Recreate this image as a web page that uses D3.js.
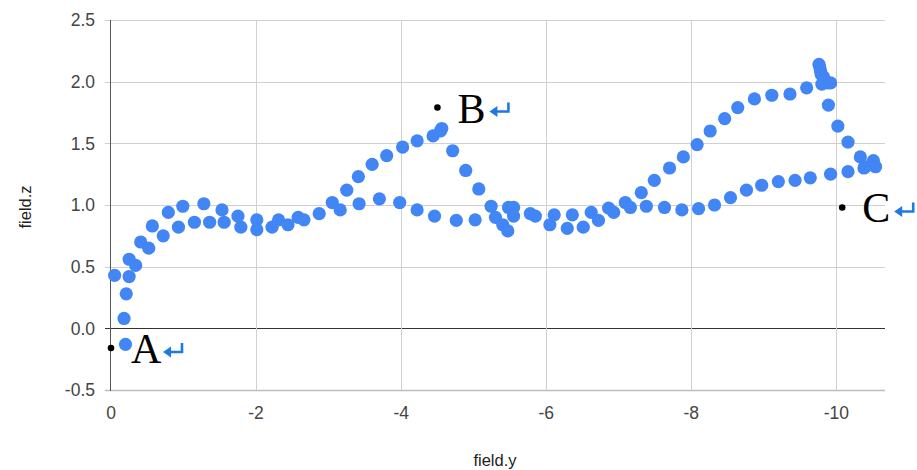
<!DOCTYPE html>
<html>
<head>
<meta charset="utf-8">
<script src="https://cdn.jsdelivr.net/npm/d3@7"></script>
<style>
  html, body { margin: 0; padding: 0; background: #fff; }
  svg { display: block; }
</style>
</head>
<body>
<svg id="chart" width="917" height="470"></svg>
<script>
// ---- data ----
const fieldY = [
  -0.05, -0.25, -0.21, -0.18, -0.20, -0.25, -0.34, -0.41, -0.52, -0.57,
  -0.72, -0.79, -0.93, -0.99, -1.15, -1.28, -1.36, -1.53, -1.56, -1.75,
  -1.79, -2.01, -2.01, -2.22, -2.31,
  -2.44, -2.58, -2.66, -2.87, -3.05, -3.16, -3.25, -3.41, -3.42, -3.60,
  -3.70, -3.80, -3.98, -4.02, -4.22, -4.22, -4.44, -4.54, -4.56, -4.46,
  -4.71, -4.76, -4.89,
  -5.07, -5.02, -5.24, -5.30, -5.40, -5.47, -5.48, -5.55, -5.55, -5.78,
  -5.85, -6.05, -6.11, -6.29, -6.36, -6.51, -6.62, -6.72, -6.86, -6.93,
  -7.09, -7.16, -7.31, -7.38, -7.49,
  -7.70, -7.89, -8.08, -8.26, -8.46, -8.64, -8.87, -9.11, -9.36, -9.59,
  -7.63, -7.87, -8.10, -8.32, -8.54, -8.76, -8.97, -9.20, -9.43, -9.64,
  -9.76, -9.77, -9.78, -9.79, -9.82, -9.83, -9.85, -9.88, -9.92, -9.80,
  -9.89, -10.02, -10.16, -10.33, -10.40, -10.51, -10.54,
  -9.92, -10.16, -10.38
];
const fieldZ = [
  0.43, 0.42, 0.28, 0.08, -0.13, 0.56, 0.51, 0.70, 0.65, 0.83,
  0.75, 0.94, 0.82, 0.99, 0.86, 1.01, 0.86, 0.96, 0.86, 0.91,
  0.82, 0.88, 0.80, 0.82, 0.88,
  0.84, 0.90, 0.88, 0.93, 1.02, 0.96, 1.12, 1.23, 1.01, 1.33,
  1.05, 1.40, 1.02, 1.47, 0.96, 1.52, 1.56, 1.60, 1.62, 0.91,
  1.44, 0.875, 1.28,
  1.13, 0.88, 0.99, 0.90, 0.84, 0.79, 0.98, 0.98, 0.91, 0.93,
  0.91, 0.84, 0.92, 0.81, 0.92, 0.82, 0.94, 0.875, 0.975, 0.94,
  1.02, 0.98, 1.10, 0.99, 1.20,
  1.30, 1.39, 1.49, 1.60, 1.70, 1.79, 1.86, 1.89, 1.90, 1.95,
  0.98, 0.96, 0.97, 1.00, 1.06, 1.12, 1.16, 1.19, 1.20, 1.22,
  2.14, 2.12, 2.09, 2.06, 2.04, 2.02, 2.00, 1.99, 1.99, 1.98,
  1.81, 1.64, 1.51, 1.39, 1.31, 1.36, 1.31,
  1.25, 1.27, 1.30
];
const annLabels = ["A", "B", "C"];
const annY = [0, -4.50, -10.08];
const annZ = [-0.16, 1.79, 0.98];
const xTicks = [0, -2, -4, -6, -8, -10];
const yTicks = [-0.5, 0.0, 0.5, 1.0, 1.5, 2.0, 2.5];
const xTitle = "field.y";
const yTitle = "field.z";

// ---- chart ----
const svg = d3.select("#chart");
const x = d3.scaleLinear().domain([0, -10.67]).range([111, 885]);
const y = d3.scaleLinear().domain([-0.5, 2.5]).range([390, 20]);
const font = "'Liberation Sans', Arial, Helvetica, sans-serif";
const hy = s => s.replace("\u2212", "-");

// horizontal gridlines
const gH = svg.append("g");
gH.selectAll("line").data(yTicks).join("line")
  .attr("x1", 105).attr("x2", x.range()[1])
  .attr("y1", d => Math.round(y(d)) + 0.5).attr("y2", d => Math.round(y(d)) + 0.5)
  .attr("stroke", d => d === 0 ? "#333" : (d === -0.5 ? "#bdbdbd" : "#d0d0d0"))
  .attr("stroke-width", d => d === -0.5 ? 1.5 : 1);

// vertical gridlines
const gV = svg.append("g");
gV.selectAll("line").data(xTicks.filter(d => d !== 0)).join("line")
  .attr("x1", d => Math.round(x(d)) + 0.5).attr("x2", d => Math.round(x(d)) + 0.5)
  .attr("y1", y(2.5)).attr("y2", y(-0.5))
  .attr("stroke", "#d0d0d0").attr("stroke-width", 1);

// y axis line
svg.append("line")
  .attr("x1", Math.round(x(0)) - 0.5).attr("x2", Math.round(x(0)) - 0.5)
  .attr("y1", y(2.5)).attr("y2", y(-0.5) + 1)
  .attr("stroke", "#555").attr("stroke-width", 1);

// tick labels
svg.append("g").selectAll("text").data(yTicks).join("text")
  .attr("x", 95).attr("y", d => y(d))
  .attr("dy", "0.36em")
  .attr("text-anchor", "end")
  .attr("font-family", font).attr("font-size", 17.5).attr("fill", "#444")
  .text(d => hy(d3.format(".1f")(d)));

svg.append("g").selectAll("text").data(xTicks).join("text")
  .attr("x", d => x(d)).attr("y", 419)
  .attr("text-anchor", "middle")
  .attr("font-family", font).attr("font-size", 17.5).attr("fill", "#444")
  .text(d => hy(d3.format("d")(d)));

// axis titles
svg.append("text")
  .attr("x", 495).attr("y", 465.5)
  .attr("text-anchor", "middle")
  .attr("font-family", font).attr("font-size", 16.5).attr("fill", "#222")
  .text(xTitle);
svg.append("text")
  .attr("transform", "translate(31,207) rotate(-90)")
  .attr("text-anchor", "middle")
  .attr("font-family", font).attr("font-size", 16.5).attr("fill", "#222")
  .text(yTitle);

// data points
const pts = fieldY.map((v, i) => ({ fy: v, fz: fieldZ[i] }));
svg.append("g").selectAll("circle").data(pts).join("circle")
  .attr("cx", d => x(d.fy)).attr("cy", d => y(d.fz))
  .attr("r", 6.6)
  .attr("fill", "#4285f4");

// annotations
const ann = annLabels.map((l, i) => ({ label: l, fy: annY[i], fz: annZ[i] }));
const gA = svg.append("g").selectAll("g").data(ann).join("g")
  .attr("transform", d => `translate(${x(d.fy)},${y(d.fz)})`);
gA.append("circle").attr("r", 3.3).attr("fill", "#000");
gA.append("text")
  .attr("x", 20).attr("y", 15)
  .attr("font-family", "'Liberation Serif', 'Times New Roman', serif")
  .attr("font-size", 42).attr("fill", "#000")
  .text(d => d.label);
// return-arrow glyph after each label
gA.append("path")
  .attr("d", "M71,-5 V4 H58")
  .attr("fill", "none").attr("stroke", "#1e78e6").attr("stroke-width", 2.6);
gA.append("path")
  .attr("d", "M52,4 L60,-1.5 L60,9.5 Z")
  .attr("fill", "#1e78e6");
</script>
</body>
</html>
